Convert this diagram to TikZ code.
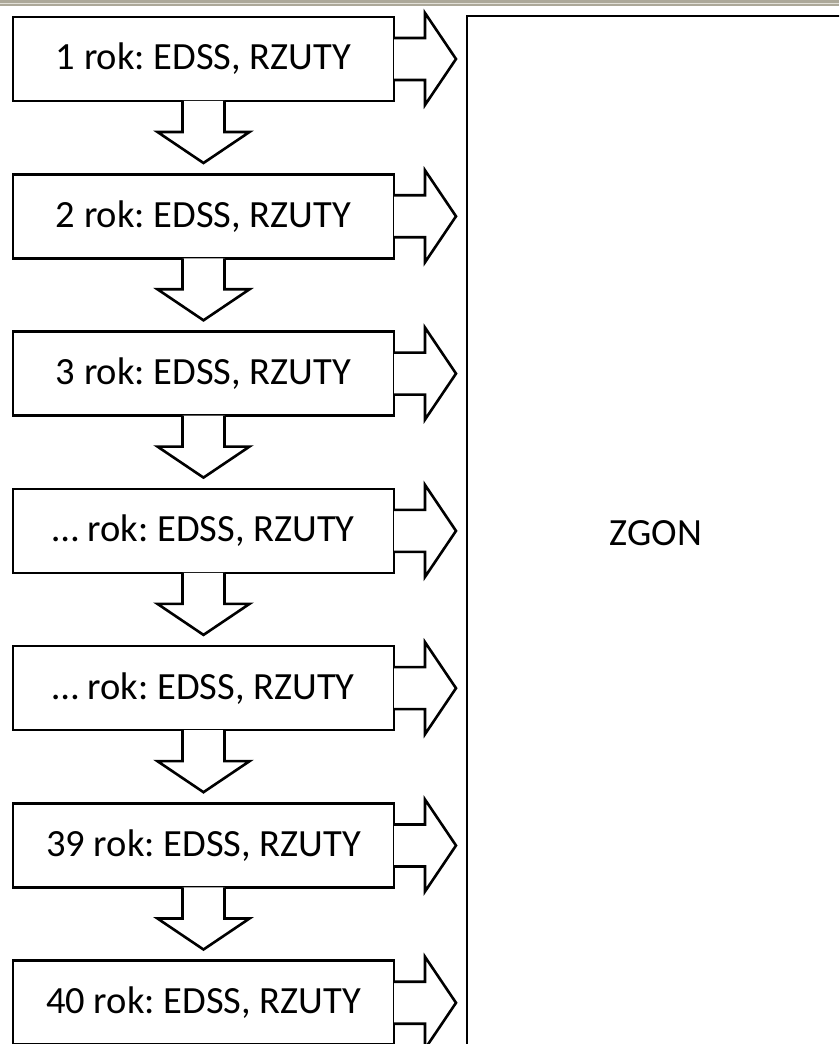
\documentclass[tikz,border=0pt]{standalone}
\usepackage{fontspec}
\setmainfont{Carlito}
\usepackage{xcolor}
\frenchspacing

\definecolor{ramka}{RGB}{172,168,153}
\definecolor{ramkajasna}{RGB}{226,224,216}

\tikzset{
  rok/.style={draw, line width=2.6pt, rectangle, inner sep=0pt, outer sep=0pt,
    minimum width=381pt, minimum height=84pt, font=\fontsize{38.5}{42}\selectfont},
  zgon/.style={draw, line width=2.6pt, rectangle, inner sep=0pt, outer sep=0pt,
    minimum width=378pt, minimum height=1034pt, font=\fontsize{38.5}{42}\selectfont},
  blok/.style={draw, line width=2.6pt, line join=miter, fill=white},
  pics/strzalka/.style={code={
    \draw[blok] (-21,0) -- (-21,-31) -- (-46,-31) -- (0,-62) -- (46,-31) -- (21,-31) -- (21,0);
  }}
}

\begin{document}
\begin{tikzpicture}[x=1pt, y=1pt]
            \useasboundingbox (0,0) rectangle (839,1044);
            \clip (0,0) rectangle (839,1044);
            % window edge at the top
            \fill[ramka] (0,1041.4) rectangle (839,1044);
            \fill[ramkajasna] (0,1040) rectangle (839,1041.4);
            \fill[ramka] (0,1038.3) rectangle (839,1040);
            % years
            \node[rok] (r1) at (203.5, 985.0) {1 rok: EDSS, RZUTY};
            \node[rok] (r2) at (203.5, 827.7) {2 rok: EDSS, RZUTY};
            \node[rok] (r3) at (203.5, 670.4) {3 rok: EDSS, RZUTY};
            \node[rok] (r4) at (203.5, 513.1) {… rok: EDSS, RZUTY};
            \node[rok] (r5) at (203.5, 355.8) {… rok: EDSS, RZUTY};
            \node[rok] (r39) at (203.5, 198.5) {39 rok: EDSS, RZUTY};
            \node[rok] (r40) at (203.5, 41.2) {40 rok: EDSS, RZUTY};
            \node[zgon] (zgon) at (656, 511) {ZGON};
            % year to year
            \pic at (r1.south) {strzalka};
            \pic at (r2.south) {strzalka};
            \pic at (r3.south) {strzalka};
            \pic at (r4.south) {strzalka};
            \pic at (r5.south) {strzalka};
            \pic at (r39.south) {strzalka};
            % year to death
            \pic[rotate=90] at (r1.east) {strzalka};
            \pic[rotate=90] at (r2.east) {strzalka};
            \pic[rotate=90] at (r3.east) {strzalka};
            \pic[rotate=90] at (r4.east) {strzalka};
            \pic[rotate=90] at (r5.east) {strzalka};
            \pic[rotate=90] at (r39.east) {strzalka};
            \pic[rotate=90] at (r40.east) {strzalka};
        \end{tikzpicture}
\end{document}
